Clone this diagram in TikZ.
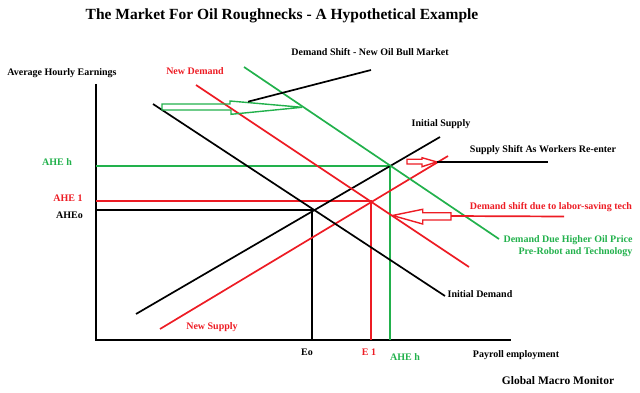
\documentclass[tikz,border=0pt]{standalone}
\usepackage{fontspec}
\setmainfont{Liberation Serif}
\usepackage{xcolor}
\definecolor{paintRed}{RGB}{237, 28, 36}
\definecolor{paintGreen}{RGB}{34, 177, 76}
\definecolor{paintBlack}{RGB}{0, 0, 0}
\tikzset{
  curve/.style={line width=1.7pt},
  lbl/.style={font=\fontsize{10}{12}\selectfont\bfseries, inner sep=0pt},
  hollow/.style={line width=1.4pt, line join=miter}
}

\begin{document}
\begin{tikzpicture}[x=1pt, y=-1pt]
            \useasboundingbox (0,0) rectangle (640,393);

            % Title
            \node[font=\fontsize{15.5}{18}\selectfont\bfseries,inner sep=0pt] (title) at (282,16) {The Market For Oil Roughnecks - A Hypothetical Example};

            % Axes
            \coordinate (origin) at (96,340);
            \coordinate (ytop) at (96,84);
            \coordinate (xend) at (511,340);
            \draw[curve] (ytop) -- (origin) -- (xend);
            \node[lbl] (ylabel) at (62,73) {Average Hourly Earnings};
            \node[lbl] (xlabel) at (516,355) {Payroll employment};

            % Curve end points
            \coordinate (isBot) at (136,314);
            \coordinate (isTop) at (440,137);
            \coordinate (nsBot) at (160,329);
            \coordinate (nsTop) at (448,156);
            \coordinate (idTop) at (153,104);
            \coordinate (idBot) at (445,296);
            \coordinate (ndTop) at (196,85);
            \coordinate (ndBot) at (469,267);
            \coordinate (gdTop) at (244,67);
            \coordinate (gdBot) at (499,239);

            % Equilibria
            \coordinate (eqO) at (312,210);
            \coordinate (eqOy) at (96,210);
            \coordinate (eqOx) at (312,340);
            \coordinate (eqA) at (371,201);
            \coordinate (eqAy) at (96,201);
            \coordinate (eqAx) at (371,340);
            \coordinate (eqH) at (390,166);
            \coordinate (eqHy) at (96,166);
            \coordinate (eqHx) at (390,340);

            % Price and quantity lines
            \draw[curve,paintGreen] (eqHy) -- (eqH) -- (eqHx);
            \draw[curve,paintRed] (eqAy) -- (eqA) -- (eqAx);
            \draw[curve,paintBlack] (eqOy) -- (eqO) -- (eqOx);

            % Supply and demand curves
            \draw[curve,paintBlack] (isBot) -- (isTop);
            \draw[curve,paintRed] (nsBot) -- (nsTop);
            \draw[curve,paintBlack] (idTop) -- (idBot);
            \draw[curve,paintRed] (ndTop) -- (ndBot);
            \draw[curve,paintGreen] (gdTop) -- (gdBot);

            % Shift arrows
            \draw[hollow,paintGreen] (162,104) -- (230,104) -- (230,101) -- (302,107.3) -- (231,114.3) -- (231,110) -- (162,110) -- cycle;
            \draw[hollow,paintRed] (407,159.3) -- (422,159.3) -- (422,157.7) -- (436.7,161.9) -- (422,166.7) -- (422,164) -- (407,164) -- cycle;
            \draw[hollow,paintRed] (451,212.7) -- (422.7,212.7) -- (422.7,209.3) -- (392.5,215.5) -- (422.7,224) -- (422.7,220) -- (451,220) -- cycle;

            % Pointer lines
            \coordinate (gArrow) at (248,101.7);
            \coordinate (gEnd) at (371,70);
            \coordinate (sArrow) at (437,162);
            \coordinate (sEnd) at (548,162);
            \coordinate (rArrow) at (451,216);
            \coordinate (rEnd) at (564,216.5);
            \draw[curve,paintBlack] (gArrow) -- (gEnd);
            \draw[curve,paintBlack] (sArrow) -- (sEnd);
            \draw[curve,paintRed] (rArrow) -- (rEnd);

            % Curve labels
            \node[lbl] (lblShift) at (370,52.5) {Demand Shift - New Oil Bull Market};
            \node[lbl,paintRed] (lblNewD) at (195,71) {New Demand};
            \node[lbl] (lblInitS) at (441,124) {Initial Supply};
            \node[lbl] (lblWorkers) at (543,150) {Supply Shift As Workers Re-enter};
            \node[lbl,paintRed] (lblTech) at (551,207) {Demand shift due to labor-saving tech};
            \node[lbl,paintGreen,align=right] (lblOil) at (568,246.5) {Demand Due Higher Oil Price\\Pre-Robot and Technology};
            \node[lbl] (lblInitD) at (480,294.5) {Initial Demand};
            \node[lbl,paintRed] (lblNewS) at (212,327.5) {New Supply};

            % Axis values
            \node[lbl,paintGreen] (ahehY) at (57,162) {AHE h};
            \node[lbl,paintRed] (ahe1) at (68,198) {AHE 1};
            \node[lbl] (aheO) at (69.5,215.5) {AHEo};
            \node[lbl] (empO) at (307,352) {Eo};
            \node[lbl,paintRed] (emp1) at (369,352) {E 1};
            \node[lbl,paintGreen] (ahehX) at (405,357) {AHE h};

            % Source
            \node[font=\fontsize{11.5}{14}\selectfont\bfseries,inner sep=0pt] (source) at (558,381) {Global Macro Monitor};
        \end{tikzpicture}
\end{document}
